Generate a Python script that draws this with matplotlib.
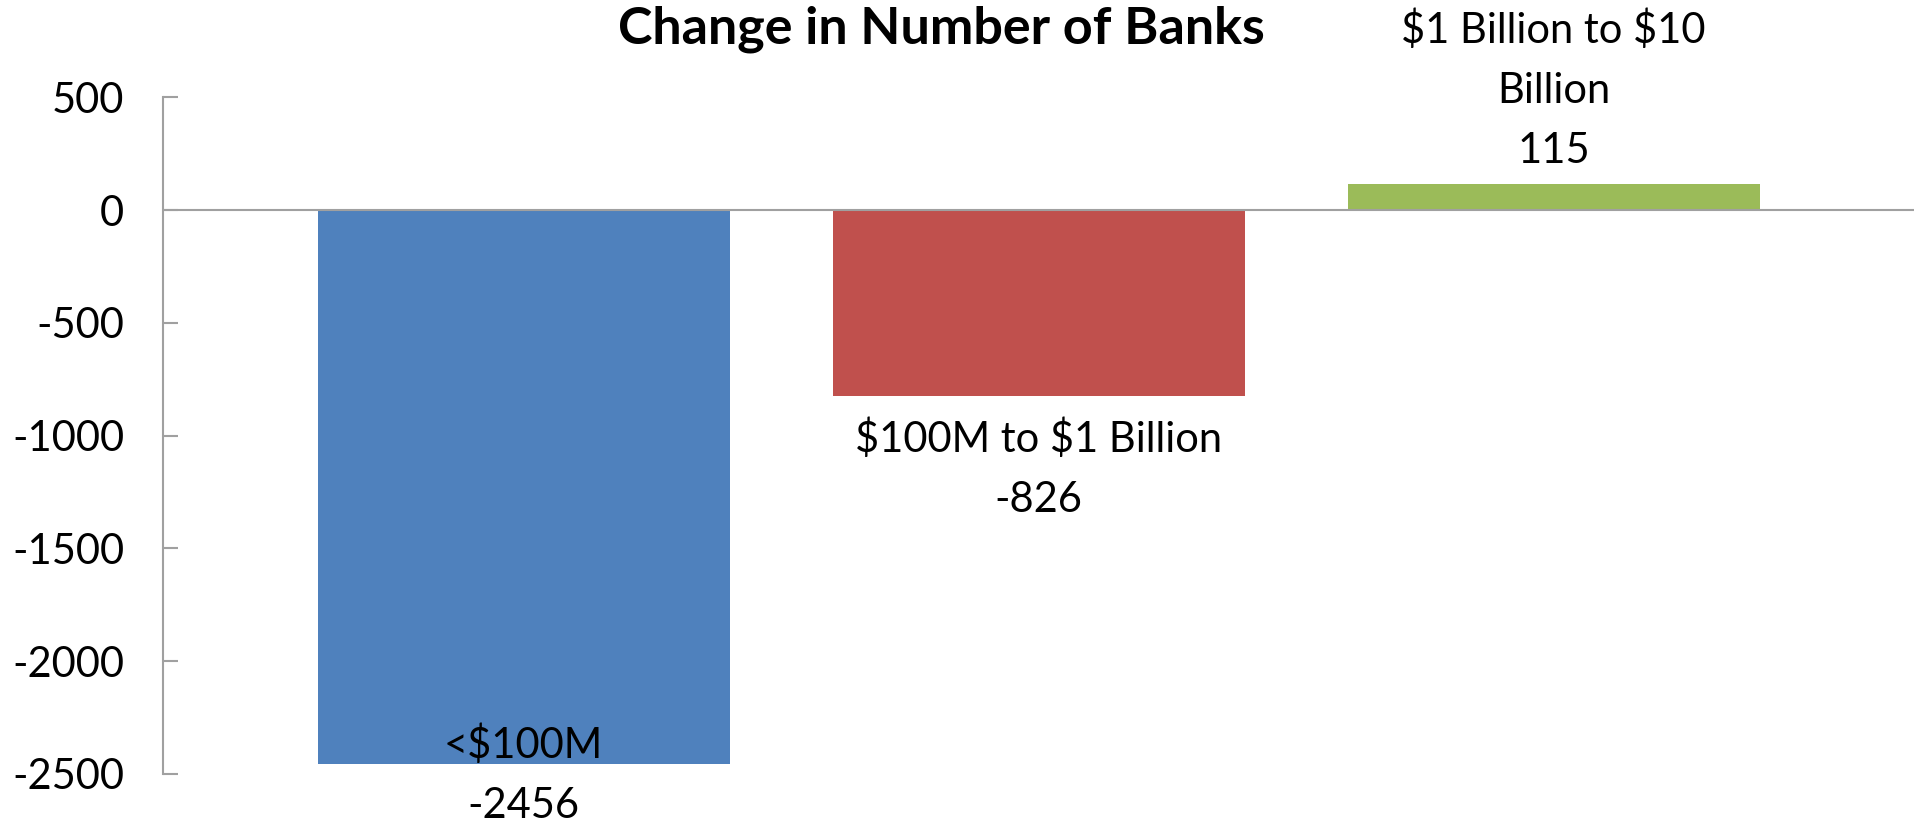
import matplotlib
matplotlib.use("Agg")
import matplotlib.pyplot as plt

plt.rcParams['font.family'] = ['Lato', 'DejaVu Sans']
plt.rcParams['text.parse_math'] = False

categories = ["<$100M", "$100M to $1 Billion", "$1 Billion to $10\nBillion"]
changes = [-2456, -826, 115]
colors = ["#4F81BD", "#C0504D", "#9BBB59"]
yticks = [500, 0, -500, -1000, -1500, -2000, -2500]

fig = plt.figure(figsize=(19.14, 8.27), dpi=100)
ax = fig.add_axes([0.0852, 0.0641, 0.9148, 0.8182])

x = list(range(len(categories)))
ax.bar(x, changes, width=0.8, color=colors, zorder=2)
ax.axhline(0, color="#A0A0A0", lw=1.5, zorder=3)

ax.set_xlim(-0.7, 2.7)
ax.set_ylim(-2500, 500)
ax.set_yticks(yticks)
ax.set_yticklabels([str(t) for t in yticks])
ax.set_xticks([])
for s in ["top", "right", "bottom"]:
    ax.spines[s].set_visible(False)
ax.spines["left"].set_color("#A0A0A0")
ax.spines["left"].set_linewidth(1.5)
ax.tick_params(axis="y", direction="in", length=11, width=1.5, color="#A0A0A0",
               labelsize=30, pad=28)

fig.text(0.492, 0.947, "Change in Number of Banks", ha="center", va="baseline",
         fontsize=37.5, fontweight="bold")

# data labels: category name + value, outside the bar end
labels = []
for i, (cat, v) in enumerate(zip(categories, changes)):
    txt = f"{cat}\n{v}"
    if v >= 0:
        t = ax.annotate(txt, xy=(i, v), xytext=(0, 14), textcoords="offset pixels",
                        ha="center", va="bottom", fontsize=30, linespacing=1.72,
                        annotation_clip=False)
    else:
        t = ax.annotate(txt, xy=(i, v), xytext=(0, -22), textcoords="offset pixels",
                        ha="center", va="top", fontsize=30, linespacing=1.72,
                        annotation_clip=False)
    labels.append(t)

# push labels that run off the bottom back into the figure
fig.canvas.draw()
r = fig.canvas.get_renderer()
for t in labels:
    bb = t.get_window_extent(r)
    if bb.y0 < 0:
        dx, dy = t.xyann
        t.xyann = (dx, dy - bb.y0 + 2)

fig.savefig("out.png", dpi=100)
